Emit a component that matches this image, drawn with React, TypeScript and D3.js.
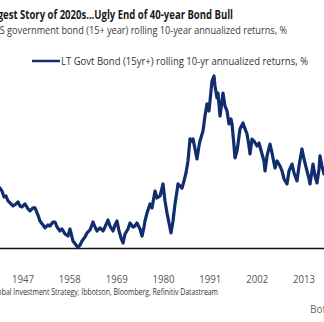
import React from "react";
import * as d3 from "d3";

const years = [
  1941.6, 1942.07, 1942.54, 1943.01, 1943.48, 1943.95, 1944.65, 1945.36, 1945.83, 1946.3,
  1946.77, 1947.47, 1948.18, 1948.65, 1949.35, 1949.82, 1950.52, 1950.99, 1951.7, 1952.17,
  1952.87, 1953.34, 1954.05, 1954.52, 1954.99, 1955.69, 1956.16, 1956.87, 1957.57, 1958.04,
  1958.51, 1958.74, 1959.45, 1959.92, 1960.39, 1960.86, 1961.56, 1962.03, 1962.74, 1963.44,
  1963.91, 1964.38, 1965.09, 1965.8, 1966.26, 1966.96, 1967.43, 1968.14, 1968.61, 1969.08,
  1969.55, 1970.02, 1970.49, 1970.96, 1971.66, 1972.13, 1972.84, 1973.31, 1973.77, 1974.48,
  1974.95, 1975.42, 1975.65, 1976.12, 1976.83, 1977.3, 1978.0, 1978.47, 1979.18, 1979.65,
  1979.88, 1980.35, 1980.82, 1981.29, 1981.76, 1982.23, 1982.7, 1983.17, 1983.4, 1983.87,
  1984.34, 1984.81, 1985.28, 1985.75, 1986.22, 1986.69, 1986.93, 1987.4, 1987.86, 1988.33,
  1988.57, 1989.27, 1989.74, 1990.21, 1990.68, 1990.92, 1991.39, 1991.86, 1992.09, 1992.56,
  1992.8, 1993.27, 1993.74, 1993.97, 1994.44, 1994.91, 1995.38, 1995.85, 1996.09, 1996.56,
  1996.79, 1997.26, 1997.49, 1997.96, 1998.43, 1998.67, 1999.14, 1999.61, 2000.08, 2000.31,
  2000.78, 2001.25, 2001.96, 2002.43, 2003.13, 2003.6, 2003.84, 2004.31, 2005.01, 2005.48,
  2006.18, 2006.65, 2007.36, 2007.83, 2008.3, 2009.0, 2009.47, 2010.18, 2010.65, 2011.35,
  2011.82, 2012.52, 2012.99, 2013.7, 2014.17, 2014.4, 2014.87, 2015.11, 2015.58, 2016.05,
  2016.52, 2016.75, 2017.22, 2017.69,
];

const returns = [
  5.42, 5.15, 4.61, 4.7, 4.25, 4.07, 3.8, 3.98, 4.16, 3.8,
  3.71, 3.98, 3.53, 3.35, 3.62, 3.62, 2.98, 2.44, 2.08, 1.81,
  2.08, 1.99, 2.35, 2.35, 1.9, 1.54, 1.72, 1.27, 1.08, 1.72,
  0.99, 0.63, 0.27, 0.05, 0.27, 0.63, 0.99, 1.36, 1.63, 2.35,
  1.9, 1.54, 1.81, 1.54, 1.9, 2.53, 1.99, 1.54, 2.08, 2.44,
  1.54, 0.9, 0.45, 1.27, 1.72, 2.26, 1.9, 1.99, 2.26, 1.72,
  1.08, 1.9, 2.44, 3.16, 3.98, 3.62, 5.15, 4.52, 4.7, 5.42,
  5.79, 4.25, 3.16, 2.26, 1.36, 2.44, 3.98, 5.15, 5.79, 5.61,
  5.42, 6.06, 6.78, 7.87, 9.86, 9.67, 9.86, 8.95, 8.05, 9.22,
  9.67, 10.58, 11.93, 13.02, 12.39, 13.29, 15.1, 15.55, 14.65, 13.56,
  14.01, 11.93, 13.29, 14.01, 12.84, 12.39, 11.21, 11.66, 11.21, 9.22,
  8.14, 8.77, 9.4, 10.76, 11.12, 11.3, 10.76, 10.31, 9.22, 8.5,
  9.85, 9.67, 9.22, 9.49, 8.5, 7.87, 6.96, 8.32, 9.4, 8.59,
  7.23, 7.87, 7.41, 6.96, 6.24, 5.79, 6.96, 7.59, 6.78, 6.06,
  7.41, 8.95, 8.05, 6.96, 6.24, 5.79, 6.96, 7.59, 6.51, 5.88,
  7.14, 8.32, 7.41, 6.69,
];

const tickYears = [1947, 1958, 1969, 1980, 1991, 2002, 2013];

const titleText = "Biggest Story of 2020s...Ugly End of 40-year Bond Bull";
const subtitleText = "US government bond (15+ year) rolling 10-year annualized returns, %";
const legendText = "LT Govt Bond (15yr+) rolling 10-yr annualized returns, %";
const sourceText = "Source: BofA Global Investment Strategy, Ibbotson, Bloomberg, Refinitiv Datastream";
const brandText = "BofA GLOBAL RESEARCH";

const W = 324;
const H = 322;
const NAVY = "#112d6e";

export default function App() {
  const x = d3.scaleLinear().domain([1941.6, 2017.69]).range([0, 324]);
  const y = d3.scaleLinear().domain([0, 16]).range([248, 71]);
  const data = years.map((yr, i) => [yr, returns[i]] as [number, number]);
  const line = d3
    .line<[number, number]>()
    .x((d) => x(d[0]))
    .y((d) => y(d[1]))
    .curve(d3.curveLinear);

  const font = "'Open Sans', 'Noto Sans', sans-serif";

  return (
    <svg
      width={W}
      height={H}
      viewBox={`0 0 ${W} ${H}`}
      style={{ position: "absolute", left: 0, top: 0, background: "#fff" }}
    >
      <rect x={0} y={0} width={W} height={H} fill="#fff" />
      <text
        x={-17}
        y={18.5}
        fontFamily={font}
        fontWeight={700}
        fontSize={11.5}
        fill="#1a1a1a"
        textLength={250}
        lengthAdjust="spacingAndGlyphs"
      >
        {titleText}
      </text>
      <text
        x={-7}
        y={33.5}
        fontFamily={font}
        fontSize={11}
        fill="#3a3a3a"
        textLength={294}
        lengthAdjust="spacingAndGlyphs"
      >
        {subtitleText}
      </text>

      <line x1={32} x2={60} y1={61} y2={61} stroke={NAVY} strokeWidth={2.5} />
      <text
        x={61}
        y={65}
        fontFamily={font}
        fontSize={11.5}
        fill="#333"
        textLength={247}
        lengthAdjust="spacingAndGlyphs"
      >
        {legendText}
      </text>

      <line x1={0} x2={W} y1={248.5} y2={248.5} stroke="#111" strokeWidth={1.5} />

      <path
        d={line(data) || ""}
        fill="none"
        stroke={NAVY}
        strokeWidth={3.2}
        strokeLinejoin="round"
        strokeLinecap="round"
      />

      {tickYears.map((t) => (
        <text
          key={t}
          x={x(t)}
          y={283}
          textAnchor="middle"
          fontFamily={font}
          fontSize={11}
          fill="#555"
          textLength={22}
          lengthAdjust="spacingAndGlyphs"
        >
          {t}
        </text>
      ))}

      <text
        x={-52}
        y={295}
        fontFamily={font}
        fontSize={8.5}
        fill="#333"
        textLength={270}
        lengthAdjust="spacingAndGlyphs"
      >
        {sourceText}
      </text>
      <text x={310} y={313} fontFamily={font} fontSize={10} fill="#666">
        {brandText}
      </text>
    </svg>
  );
}
